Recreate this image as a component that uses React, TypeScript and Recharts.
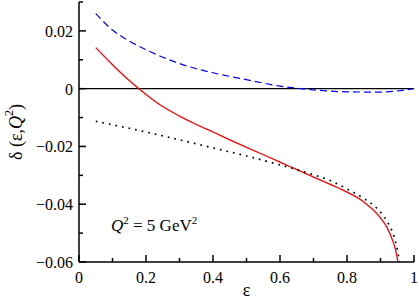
import React from 'react';
import { LineChart, Line, XAxis, YAxis, ReferenceLine } from 'recharts';

// radiative correction delta(eps, Q^2) at Q^2 = 5 GeV^2
const blueEps = [0.05, 0.1, 0.15, 0.2, 0.25, 0.3, 0.35, 0.4, 0.5, 0.6, 0.7, 0.8, 0.9, 0.95, 1.0];
const blueDelta = [0.026, 0.0203, 0.0165, 0.0135, 0.0109, 0.0087, 0.0069, 0.0055, 0.0031, 0.0009, -0.0004, -0.0011, -0.0012, -0.0008, 0];

const redEps = [0.05, 0.1, 0.15, 0.2, 0.25, 0.3, 0.35, 0.4, 0.45, 0.5, 0.6, 0.7, 0.75, 0.8, 0.85, 0.88, 0.9, 0.92, 0.935, 0.945, 0.952];
const redDelta = [0.0142, 0.0083, 0.0028, -0.002, -0.0062, -0.0095, -0.0124, -0.015, -0.0177, -0.0203, -0.0254, -0.0306, -0.0331, -0.0358, -0.0392, -0.0422, -0.0447, -0.0482, -0.0522, -0.0558, -0.06];

const dotEps = [0.05, 0.1, 0.2, 0.3, 0.4, 0.5, 0.6, 0.7, 0.75, 0.8, 0.85, 0.89, 0.92, 0.94, 0.95, 0.957];
const dotDelta = [-0.0113, -0.0125, -0.015, -0.0177, -0.0205, -0.0233, -0.0264, -0.0298, -0.0318, -0.0347, -0.038, -0.0415, -0.046, -0.051, -0.0555, -0.06];

const xTicks = [0, 0.1, 0.2, 0.3, 0.4, 0.5, 0.6, 0.7, 0.8, 0.9, 1];
const yTicks = [-0.06, -0.05, -0.04, -0.03, -0.02, -0.01, 0, 0.01, 0.02, 0.03];

const toPoints = (xs: number[], ys: number[]) => xs.map((x, i) => ({ x, y: ys[i] }));

const blueData = toPoints(blueEps, blueDelta);
const redData = toPoints(redEps, redDelta);
const dotData = toPoints(dotEps, dotDelta);

const FONT = '"Liberation Serif", "DejaVu Serif", serif';
const MAJOR = 7;
const MINOR = 4;

const xMajor = (v: number) => Math.round(v * 10) % 2 === 0;
const yMajor = (v: number) => Math.round(v * 100) % 2 === 0;

const fmtX = (v: number) => (v === 0 ? '0' : v === 1 ? '1' : v.toFixed(1));
const fmtY = (v: number) => (Math.abs(v) < 1e-9 ? '0' : (v < 0 ? '\u2212' : '') + Math.abs(v).toFixed(2));

const BottomTick = (props: any) => {
  const { x, y, payload } = props;
  const v = payload.value;
  const major = xMajor(v);
  return (
    <g>
      <line x1={x} y1={y} x2={x} y2={y - (major ? MAJOR : MINOR)} stroke="#000" strokeWidth={1.5} />
      {major && (
        <text x={x} y={y + 21} textAnchor="middle" fontFamily={FONT} fontSize={16} fill="#000">
          {fmtX(v)}
        </text>
      )}
    </g>
  );
};

const TopTick = (props: any) => {
  const { x, y, payload } = props;
  const major = xMajor(payload.value);
  return <line x1={x} y1={y} x2={x} y2={y + (major ? MAJOR : MINOR)} stroke="#000" strokeWidth={1.5} />;
};

const LeftTick = (props: any) => {
  const { x, y, payload } = props;
  const v = payload.value;
  const major = yMajor(v);
  return (
    <g>
      <line x1={x} y1={y} x2={x + (major ? MAJOR : MINOR)} y2={y} stroke="#000" strokeWidth={1.5} />
      {major && v < 0.025 && (
        <text x={x - 6} y={y + 6} textAnchor="end" fontFamily={FONT} fontSize={16} fill="#000">
          {fmtY(v)}
        </text>
      )}
    </g>
  );
};

const RightTick = (props: any) => {
  const { x, y, payload } = props;
  const major = yMajor(payload.value);
  return <line x1={x} y1={y} x2={x - (major ? MAJOR : MINOR)} y2={y} stroke="#000" strokeWidth={1.5} />;
};

const YLabel = (props: any) => {
  const { viewBox } = props;
  const cx = viewBox.x + 16;
  const cy = viewBox.y + viewBox.height / 2;
  return (
    <text
      x={cx}
      y={cy}
      transform={`rotate(-90, ${cx}, ${cy})`}
      textAnchor="middle"
      dominantBaseline="central"
      fontFamily={FONT}
      fontSize={18}
      fill="#000"
    >
      δ (ε,<tspan fontStyle="italic">Q</tspan>
      <tspan fontSize={12} dy={-7}>2</tspan>
      <tspan dy={7}>)</tspan>
    </text>
  );
};

const XLabel = (props: any) => {
  const { viewBox } = props;
  return (
    <text
      x={viewBox.x + viewBox.width / 2}
      y={viewBox.y + 34}
      textAnchor="middle"
      fontFamily={FONT}
      fontSize={18}
      fill="#000"
    >
      ε
    </text>
  );
};

export default function App() {
  return (
    <div style={{ position: 'absolute', left: 0, top: 0, width: 419, height: 300, background: '#fff' }}>
      <LineChart width={419} height={300} margin={{ top: 2, right: 5, bottom: 0, left: 0 }}>
        <XAxis
          xAxisId="b"
          type="number"
          dataKey="x"
          domain={[0, 1]}
          ticks={xTicks}
          interval={0}
          height={38}
          tickSize={0}
          tickMargin={0}
          axisLine={{ stroke: '#000', strokeWidth: 1.5 }}
          tickLine={false}
          tick={<BottomTick />}
          label={<XLabel />}
          allowDataOverflow
        />
        <XAxis
          xAxisId="t"
          orientation="top"
          type="number"
          dataKey="x"
          domain={[0, 1]}
          ticks={xTicks}
          interval={0}
          height={0}
          tickSize={0}
          tickMargin={0}
          axisLine={{ stroke: '#000', strokeWidth: 1.5 }}
          tickLine={false}
          tick={<TopTick />}
          allowDataOverflow
        />
        <YAxis
          yAxisId="l"
          type="number"
          domain={[-0.06, 0.03]}
          ticks={yTicks}
          interval={0}
          width={79}
          tickSize={0}
          tickMargin={0}
          axisLine={{ stroke: '#000', strokeWidth: 1.5 }}
          tickLine={false}
          tick={<LeftTick />}
          label={<YLabel />}
          allowDataOverflow
        />
        <YAxis
          yAxisId="r"
          orientation="right"
          type="number"
          domain={[-0.06, 0.03]}
          ticks={yTicks}
          interval={0}
          width={0}
          tickSize={0}
          tickMargin={0}
          axisLine={{ stroke: '#000', strokeWidth: 1.5 }}
          tickLine={false}
          tick={<RightTick />}
          allowDataOverflow
        />
        <ReferenceLine xAxisId="b" yAxisId="l" y={0} stroke="#000" strokeWidth={1.2} />
        <Line
          xAxisId="b"
          yAxisId="l"
          data={blueData}
          dataKey="y"
          type="monotone"
          stroke="#0000ff"
          strokeWidth={1.2}
          strokeDasharray="7 4"
          dot={false}
          isAnimationActive={false}
        />
        <Line
          xAxisId="b"
          yAxisId="l"
          data={redData}
          dataKey="y"
          type="monotone"
          stroke="#ff0000"
          strokeWidth={1.3}
          dot={false}
          isAnimationActive={false}
        />
        <Line
          xAxisId="b"
          yAxisId="l"
          data={dotData}
          dataKey="y"
          type="monotone"
          stroke="#000"
          strokeWidth={1.7}
          strokeDasharray="1.7 5"
          dot={false}
          isAnimationActive={false}
        />
      </LineChart>
      <div
        style={{
          position: 'absolute',
          left: 111,
          top: 216,
          fontFamily: FONT,
          fontSize: 17,
          lineHeight: '20px',
          color: '#000',
          whiteSpace: 'nowrap',
        }}
      >
        <i>Q</i>
        <sup style={{ fontSize: 11, verticalAlign: 7, lineHeight: 0 }}>2</sup> = 5 GeV
        <sup style={{ fontSize: 11, verticalAlign: 7, lineHeight: 0 }}>2</sup>
      </div>
    </div>
  );
}
